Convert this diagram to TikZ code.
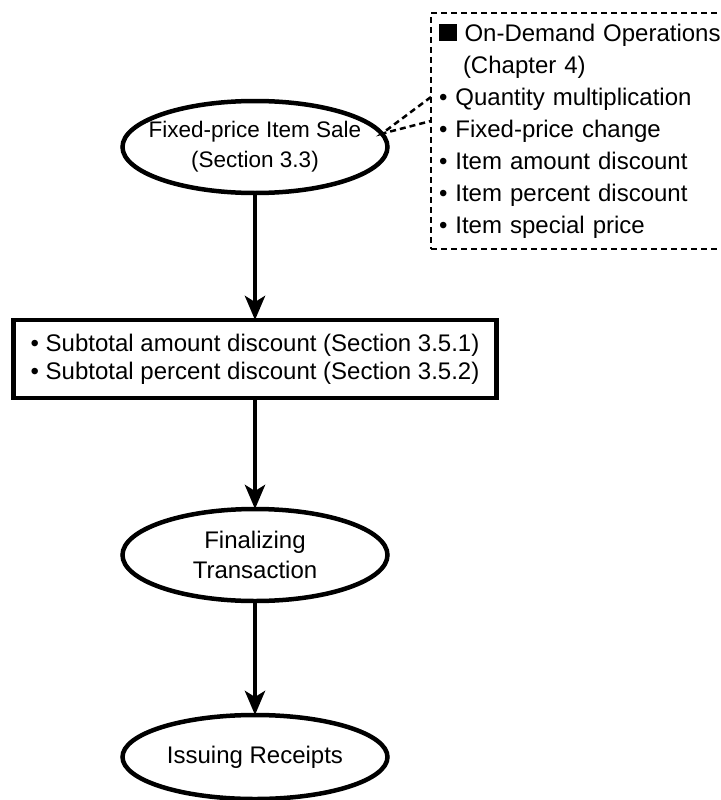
\documentclass[tikz,border=0pt]{standalone}
\usepackage{fontspec}
\setmainfont{Liberation Sans}
\usetikzlibrary{arrows.meta,calc,positioning,shapes.geometric}
\definecolor{ink}{HTML}{000000}
\tikzset{
  basebox/.style={draw=ink,line width=4.5pt,outer sep=0pt,inner sep=0pt,align=center,text=ink,font=\fontsize{24}{30}\selectfont},
  stepnode/.style={basebox,ellipse,minimum width=265pt,minimum height=92pt,inner xsep=-25pt},
  listbox/.style={basebox,minimum width=483pt,minimum height=78pt,align=left,font=\fontsize{24}{28}\selectfont},
  notebox/.style={draw=ink,line width=2.5pt,dash pattern=on 6pt off 4pt,outer sep=0pt,inner xsep=8pt,inner ysep=0pt,
    minimum width=400pt,minimum height=236pt,text width=384pt,align=left,text=ink,font=\fontsize{24}{32}\selectfont},
  arrow/.style={-{Stealth[length=24pt,width=20pt,inset=6pt]},line width=4.5pt,draw=ink},
  callout/.style={line width=2.5pt,draw=ink,dash pattern=on 6pt off 4pt}
}
\begin{document}
\begin{tikzpicture}[x=1pt,y=-1pt]
  \useasboundingbox (0,0) rectangle (720,800);
  \clip (0,0) rectangle (720,800);
  \node[stepnode,font=\fontsize{22.5}{30}\selectfont] (sale) at (255,147) {Fixed-price Item Sale\\(Section 3.3)};
  \node[listbox,below=127pt of sale] (sub) {• Subtotal amount discount (Section 3.5.1)\\• Subtotal percent discount (Section 3.5.2)};
  \node[stepnode,below=111pt of sub] (fin) {Finalizing\\Transaction};
  \node[stepnode,minimum height=84pt,below=114pt of fin] (rcpt) {Issuing Receipts};
  % on-demand operations note
  \node[notebox,anchor=north west] (ops) at (431,13) {{\rule{17.5pt}{17pt}} On-Demand Operations\\
    \hspace*{24pt}(Chapter 4)\\
    • Quantity multiplication\\
    • Fixed-price change\\
    • Item amount discount\\
    • Item percent discount\\
    • Item special price};
  \coordinate (p1) at ($(ops.north west)+(0,84)$);
  \coordinate (p2) at ($(ops.north west)+(0,108)$);
  \draw[callout] (p1) -- (sale.6) -- (p2);
  \draw[arrow] (sale) -- (sub);
  \draw[arrow] (sub) -- (fin);
  \draw[arrow] (fin) -- (rcpt);
\end{tikzpicture}
\end{document}
